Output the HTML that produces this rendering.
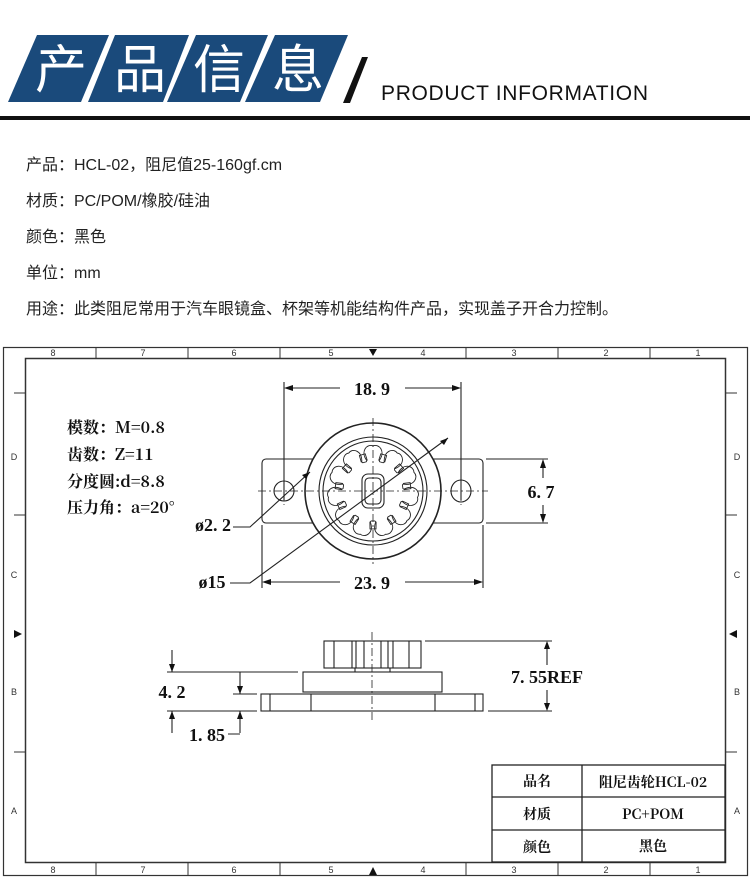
<!DOCTYPE html>
<html><head><meta charset="utf-8"><style>
body{margin:0;width:750px;height:895px;background:#fff;overflow:hidden;position:relative;font-family:"Liberation Sans","Noto Sans CJK SC",sans-serif}
.info{position:absolute;left:26px;font-size:16px;color:#222;line-height:20px}
</style></head><body>
<svg width="750" height="130" style="position:absolute;left:0;top:0">
<polygon points="37,35 109,35 81,102 8,102" fill="#1a4a7b"/>
<polygon points="115,35 189,35 163,102 88,102" fill="#1a4a7b"/>
<polygon points="196,35 268,35 240,102 167,102" fill="#1a4a7b"/>
<polygon points="275,35 348,35 320,102 245,102" fill="#1a4a7b"/>
<g font-family="Noto Sans CJK SC,sans-serif" font-size="52" fill="#fff" text-anchor="middle">
<text x="61" y="88">产</text><text x="140" y="88">品</text><text x="219" y="88">信</text><text x="298" y="88">息</text></g>
<polygon points="362,57 368,57 350,103 343,103" fill="#111"/>
<text x="381" y="100" font-size="21" fill="#111" font-family="Liberation Sans,sans-serif" textLength="267">PRODUCT INFORMATION</text>
<rect x="0" y="116" width="750" height="4" fill="#111"/>
</svg>
<div class="info" style="top:156px">产品：HCL-02，阻尼值25-160gf.cm</div>
<div class="info" style="top:192px">材质：PC/POM/橡胶/硅油</div>
<div class="info" style="top:228px">颜色：黑色</div>
<div class="info" style="top:264px">单位：mm</div>
<div class="info" style="top:300px">用途：此类阻尼常用于汽车眼镜盒、杯架等机能结构件产品，实现盖子开合力控制。</div>
<svg id="d" width="750" height="895" style="position:absolute;left:0;top:0" font-family="Liberation Mono,monospace">
<rect x="3.5" y="347.5" width="744" height="528" fill="none" stroke="#333" stroke-width="1.2"/>
<rect x="25.5" y="358.5" width="700" height="504" fill="none" stroke="#333" stroke-width="1.5"/>
<g font-size="9" fill="#333" font-family="Liberation Sans,sans-serif" text-anchor="middle">
<text x="53" y="356">8</text><text x="143" y="356">7</text><text x="234" y="356">6</text><text x="331" y="356">5</text><text x="423" y="356">4</text><text x="514" y="356">3</text><text x="606" y="356">2</text><text x="698" y="356">1</text>
<text x="53" y="873">8</text><text x="143" y="873">7</text><text x="234" y="873">6</text><text x="331" y="873">5</text><text x="423" y="873">4</text><text x="514" y="873">3</text><text x="606" y="873">2</text><text x="698" y="873">1</text>
<text x="14" y="460">D</text><text x="14" y="578">C</text><text x="14" y="695">B</text><text x="14" y="814">A</text>
<text x="737" y="460">D</text><text x="737" y="578">C</text><text x="737" y="695">B</text><text x="737" y="814">A</text>
</g>
<g stroke="#333" stroke-width="1">
<path d="M96,348V358M188,348V358M280,348V358M466,348V358M558,348V358M650,348V358M96,863V875M188,863V875M280,863V875M466,863V875M558,863V875M650,863V875"/>
<path d="M14,393H25M14,515H25M14,752H25M726,393H737M726,515H737M726,752H737"/>
</g>
<path d="M369,349L377,349L373,356z M369,875L377,875L373,867z M14,630L14,638L22,634z M737,630L737,638L729,634z" fill="#111"/>
<g font-family="Noto Serif CJK SC,Noto Sans CJK SC,serif" font-size="16" fill="#111" font-weight="bold">
<text x="67" y="433">模数：M=0.8</text><text x="67" y="460">齿数：Z=11</text><text x="67" y="487">分度圆:d=8.8</text><text x="67" y="513">压力角：a=20°</text></g>
<g fill="none" stroke="#222" stroke-width="1.1">
<rect x="262" y="459" width="221" height="64" rx="4"/>
<circle cx="373" cy="491" r="68" fill="#fff" stroke-width="1.6"/>
<circle cx="373" cy="491" r="54"/><circle cx="373" cy="491" r="50"/>
<path id="gear" stroke-width="0.9"/>
<path id="slots" stroke-width="0.9"/>
<rect x="362" y="474" width="22" height="34" rx="6"/><rect x="365" y="478" width="16" height="26" rx="4"/>
<circle cx="284" cy="491" r="10"/><ellipse cx="461" cy="491" rx="10" ry="11"/>
<path d="M258,491H488M373,418V564M284,477V505M461,477V505" stroke-dasharray="8,3,2,3" stroke-width="0.8"/>
<path d="M284,382V500M461,382V500M262,525V588M483,525V588M486,459H548M486,523H548"/>
<path d="M286,388H340M405,388H459M265,582H340M405,582H480M543,462V478M543,505V520"/>
<path d="M233,527H250L310,472M230,583H250L448,438"/>
</g>
<g fill="#111"><path d="M284,388l9,-3v6z M461,388l-9,-3v6z M262,582l9,-3v6z M483,582l-9,-3v6z M543,459l-3,9h6z M543,523l-3,-9h6z M310,472l-8,3l4,4z M448,438l-8,3l4,4z"/></g>
<g font-size="18" fill="#111" font-family="Liberation Serif,serif" text-anchor="middle" font-weight="bold">
<text x="372" y="395">18. 9</text><text x="372" y="589">23. 9</text><text x="541" y="498">6. 7</text>
<text x="213" y="531">ø2. 2</text><text x="212" y="588">ø15</text>
<text x="172" y="698">4. 2</text><text x="207" y="741">1. 85</text><text x="547" y="683">7. 55REF</text></g>
<g fill="none" stroke="#222" stroke-width="1.1">
<rect x="324" y="641" width="97" height="27"/>
<path d="M334,641V668M352,641V668M356,641V668M364,641V668M381,641V668M388,641V668M393,641V668M409,641V668M355,668V672M390,668V672"/>
<rect x="303" y="672" width="139" height="20"/>
<rect x="261" y="694" width="222" height="17"/>
<path d="M270,694V711M311,694V711M435,694V711M475,694V711M305,692H440"/>
<path d="M372,632V722" stroke-dasharray="8,3,2,3" stroke-width="0.8"/>
<path d="M167,672H298M167,711H257M233,694H257M425,641H552M488,711H552"/>
<path d="M172,650V672M172,733V711M240,672V694M240,733V711M228,734H240M547,644V665M547,690V708"/>
</g>
<g fill="#111"><path d="M172,672l-3,-8h6z M172,711l-3,8h6z M240,694l-3,-8h6z M240,711l-3,8h6z M547,641l-3,8h6z M547,711l-3,-8h6z"/></g>
<g fill="none" stroke="#222" stroke-width="1.3">
<rect x="492" y="765" width="233" height="97" fill="#fff"/>
<path d="M492,797H725M492,830H725M582,765V862"/></g>
<g font-family="Noto Serif CJK SC,Noto Sans CJK SC,serif" font-size="14" fill="#111" font-weight="bold" text-anchor="middle">
<text x="537" y="786">品名</text><text x="653" y="787">阻尼齿轮HCL-02</text>
<text x="537" y="819">材质</text><text x="653" y="819">PC+POM</text>
<text x="537" y="852">颜色</text><text x="653" y="851">黑色</text></g>
</svg>
<script>
var cx=373,cy=491,d="",s="";
function p(r,t){return (cx+r*Math.cos(t)).toFixed(1)+","+(cy+r*Math.sin(t)).toFixed(1)}
for(var i=0;i<11;i++){var a=-Math.PI/2+i*2*Math.PI/11;
d+=(i?"L":"M")+p(31,a-0.2)+"C"+p(42,a-0.32)+" "+p(48,a-0.12)+" "+p(45,a)+"C"+p(48,a+0.12)+" "+p(42,a+0.32)+" "+p(31,a+0.2);
var b=a+Math.PI/11;d+="L"+p(30,b-0.06)+"L"+p(30,b+0.06);
s+="M"+p(31,b-0.1)+"L"+p(38,b-0.08)+"L"+p(38,b+0.08)+"L"+p(31,b+0.1);}
document.getElementById("gear").setAttribute("d",d+"Z");
document.getElementById("slots").setAttribute("d",s);
</script>
</body></html>
